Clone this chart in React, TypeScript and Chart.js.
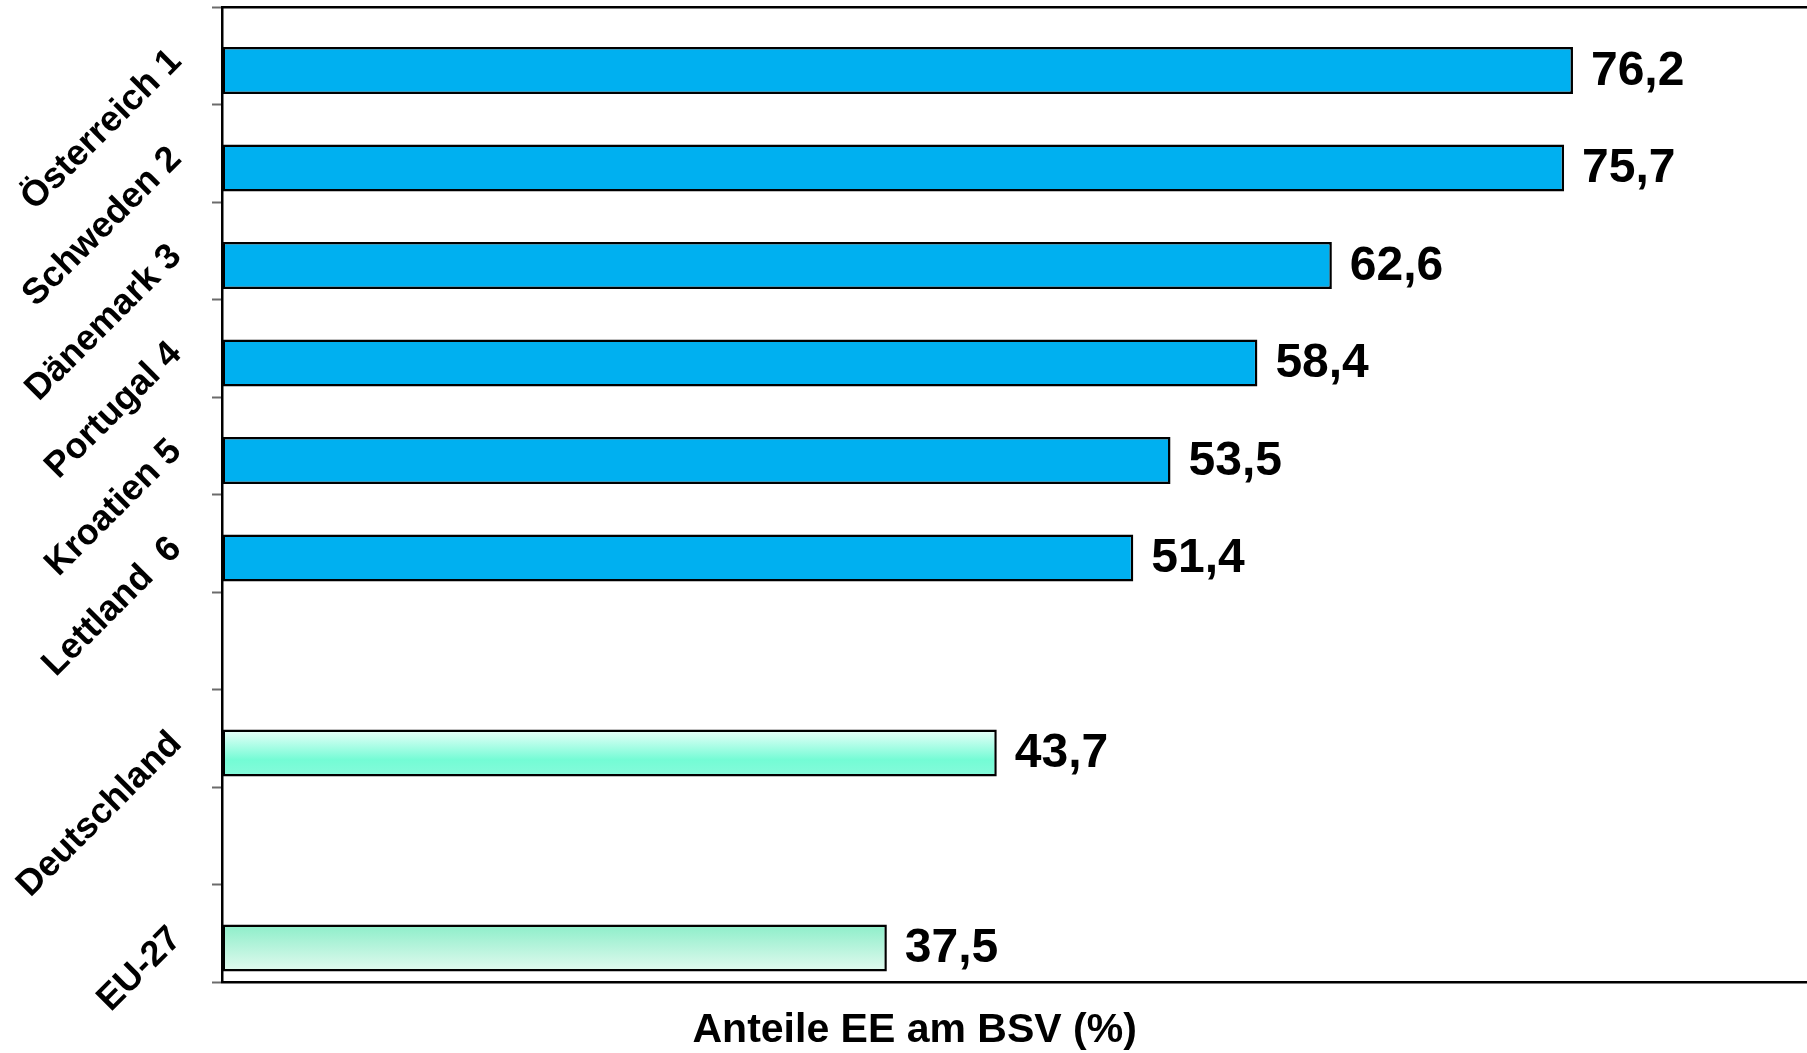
import React, { useEffect, useRef } from 'react';
import { Chart, registerables } from 'chart.js';

Chart.register(...registerables);

// ---- data ----
const categories = ['Österreich 1', 'Schweden 2', 'Dänemark 3', 'Portugal 4', 'Kroatien 5', 'Lettland  6', '', 'Deutschland', '', 'EU-27'];
const shares: (number | null)[] = [76.2, 75.7, 62.6, 58.4, 53.5, 51.4, null, 43.7, null, 37.5];
const valueLabels = ['76,2', '75,7', '62,6', '58,4', '53,5', '51,4', '', '43,7', '', '37,5'];
const axisTitle = 'Anteile EE am BSV (%)';

// ---- styles ----
const FONT = '"Liberation Sans", Arial, sans-serif';
const BLUE = '#00b0f0';
const gradientStops: Record<string, [number, string][]> = {
  Deutschland: [[0, '#ecfffa'], [0.65, '#74fcd5'], [1, '#86fadb']],
  'EU-27': [[0, '#8ceec9'], [1, '#e2faef']],
};

const gradientPlugin = {
  id: 'barGradients',
  beforeDatasetsDraw(chart: any) {
    const ctx = chart.ctx;
    const meta = chart.getDatasetMeta(1);
    meta.data.forEach((el: any, i: number) => {
      const stops = gradientStops[categories[i]];
      if (!stops) return;
      const { y, height } = el.getProps(['y', 'height'], true);
      const g = ctx.createLinearGradient(0, y - height / 2, 0, y + height / 2);
      stops.forEach(([o, c]) => g.addColorStop(o, c));
      el.options.backgroundColor = g;
    });
  },
};

const valueLabelPlugin = {
  id: 'valueLabels',
  afterDatasetsDraw(chart: any) {
    const ctx = chart.ctx;
    const meta = chart.getDatasetMeta(1);
    ctx.save();
    ctx.font = `bold 48px ${FONT}`;
    ctx.fillStyle = '#000';
    ctx.textAlign = 'left';
    ctx.textBaseline = 'middle';
    meta.data.forEach((el: any, i: number) => {
      if (shares[i] == null) return;
      const { x, y } = el.getProps(['x', 'y'], true);
      ctx.fillText(valueLabels[i], x + 18, y + 1);
    });
    ctx.restore();
  },
};

const axisTitlePlugin = {
  id: 'axisTitle',
  afterDraw(chart: any) {
    const { ctx, chartArea } = chart;
    ctx.save();
    ctx.font = `bold 41px ${FONT}`;
    ctx.fillStyle = '#000';
    ctx.textAlign = 'center';
    ctx.textBaseline = 'alphabetic';
    const x = chartArea.left + (chartArea.right - chartArea.left) * 0.437;
    ctx.fillText(axisTitle, x, chartArea.bottom + 60);
    ctx.restore();
  },
};

export default function App() {
  const ref = useRef<HTMLCanvasElement | null>(null);
  useEffect(() => {
    if (!ref.current) return;
    const chart = new Chart(ref.current, {
      type: 'bar',
      data: {
        labels: categories,
        datasets: [
          { data: categories.map(() => null) as any, backgroundColor: 'transparent', borderWidth: 0 },
          {
            data: shares as any,
            backgroundColor: (c: any) => (gradientStops[categories[c.dataIndex]] ? '#7fffd4' : BLUE),
            borderColor: '#000',
            borderWidth: 2.5,
            borderSkipped: false,
          },
        ],
      },
      options: {
        indexAxis: 'y',
        animation: false,
        responsive: true,
        maintainAspectRatio: false,
        layout: { padding: 0 },
        datasets: { bar: { categoryPercentage: 0.601, barPercentage: 1.604 } },
        plugins: { legend: { display: false }, tooltip: { enabled: false } },
        scales: {
          x: {
            type: 'linear',
            position: 'bottom',
            min: 0,
            max: 89.4,
            grid: { drawOnChartArea: false, drawTicks: false },
            ticks: { display: false },
            border: { display: true, color: '#000', width: 2.5 },
            afterFit: (s: any) => { s.height = 71; s.paddingLeft = 0; s.paddingRight = 0; },
          },
          xTop: {
            type: 'linear',
            position: 'top',
            min: 0,
            max: 89.4,
            grid: { drawOnChartArea: false, drawTicks: false },
            ticks: { display: false },
            border: { display: true, color: '#000', width: 2.5 },
            afterFit: (s: any) => { s.height = 7; s.paddingLeft = 0; s.paddingRight = 0; },
          },
          y: {
            type: 'category',
            grid: { drawOnChartArea: false, drawTicks: true, tickLength: 10, tickColor: '#6b6b6b', tickWidth: 2, offset: true },
            border: { display: true, color: '#000', width: 2.5 },
            ticks: {
              autoSkip: false,
              minRotation: 45,
              maxRotation: 45,
              padding: 36,
              color: '#000',
              font: { family: FONT, size: 36, weight: 'bold' },
            },
            afterFit: (s: any) => { s.width = 222; s.paddingTop = 0; s.paddingBottom = 0; },
          },
        },
      } as any,
      plugins: [gradientPlugin, valueLabelPlugin, axisTitlePlugin],
    });
    return () => chart.destroy();
  }, []);
  return (
    <div style={{ position: 'absolute', left: 0, top: 0, width: 1807, height: 1053, background: '#fff' }}>
      <canvas ref={ref} />
    </div>
  );
}
